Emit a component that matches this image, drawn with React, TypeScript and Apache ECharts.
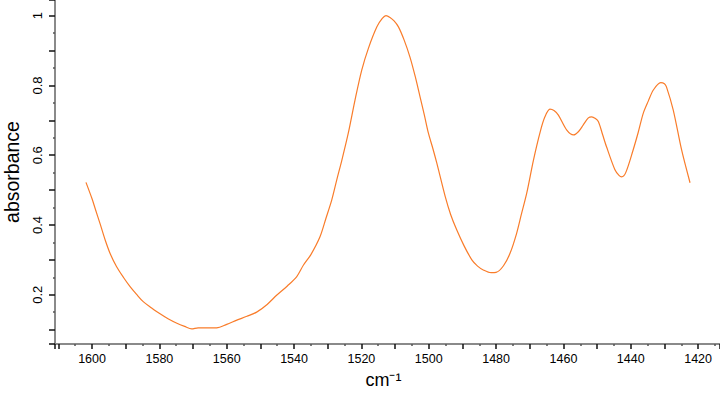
import { useEffect, useRef } from 'react';
import * as echarts from 'echarts';

// wavenumber (cm-1), high to low
const wavenumbers = [
  1601.8, 1600.0, 1599.1, 1597.5, 1596.1, 1594.5, 1592.7, 1590.7, 1588.7, 1586.7,
  1584.8, 1582.3, 1579.8, 1577.3, 1574.8, 1572.5, 1570.4, 1568.5, 1563.0, 1560.0,
  1557.0, 1554.0, 1551.1, 1548.0, 1545.1, 1542.0, 1539.2, 1537.2, 1535.0, 1532.3,
  1530.5, 1528.8, 1527.3, 1525.8, 1523.9, 1521.9, 1519.9, 1517.9, 1515.4, 1513.8,
  1512.7, 1511.5, 1510.3, 1509.0, 1507.3, 1505.6, 1504.0, 1502.6, 1501.3, 1500.1,
  1498.8, 1497.6, 1495.1, 1493.5, 1491.7, 1489.5, 1487.2, 1485.5, 1483.8, 1481.5,
  1480.0, 1477.8, 1475.8, 1473.9, 1472.5, 1470.9, 1468.9, 1466.9, 1465.5, 1464.0,
  1462.8, 1461.5, 1459.0, 1457.0, 1455.5, 1454.1, 1452.6, 1451.6, 1450.5, 1449.6,
  1448.4, 1447.2, 1444.7, 1443.5, 1442.7, 1441.5, 1439.3, 1437.8, 1436.3, 1434.8,
  1433.3, 1431.1, 1430.0, 1429.4, 1427.4, 1424.9, 1422.4,
];

const absorbance = [
  0.522, 0.475, 0.448, 0.4, 0.357, 0.315, 0.28, 0.25, 0.223, 0.2,
  0.18, 0.162, 0.145, 0.13, 0.118, 0.109, 0.102, 0.105, 0.105, 0.115,
  0.127, 0.138, 0.15, 0.172, 0.199, 0.225, 0.252, 0.285, 0.315, 0.366,
  0.42, 0.472, 0.53, 0.586, 0.663, 0.758, 0.844, 0.907, 0.968, 0.992,
  1.0, 0.995, 0.985, 0.968, 0.93, 0.882, 0.825, 0.768, 0.715, 0.663,
  0.62, 0.577, 0.481, 0.43, 0.386, 0.34, 0.3, 0.282, 0.271, 0.263,
  0.264, 0.283, 0.32, 0.376, 0.43, 0.491, 0.586, 0.667, 0.71, 0.732,
  0.728, 0.715, 0.672, 0.658, 0.668, 0.687, 0.707, 0.71, 0.705, 0.696,
  0.66, 0.624, 0.558, 0.542, 0.538, 0.55, 0.615, 0.665, 0.72, 0.755,
  0.787, 0.808, 0.805, 0.796, 0.73, 0.615, 0.521,
];

const FONT = '"Liberation Sans", Arial, sans-serif';

export default function App() {
  const chartRef = useRef<HTMLDivElement>(null);

  useEffect(() => {
    if (!chartRef.current) return;
    document.body.style.margin = '0';
    const chart = echarts.init(chartRef.current, null, { renderer: 'svg' });

    const xLabel = (v: number) => (Math.abs(v % 20) < 1e-6 ? String(v) : '');
    const yLabel = (v: number) => {
      const r = Math.round(v * 10);
      if (Math.abs(v * 10 - r) > 1e-6 || r % 2 !== 0) return '';
      return String(r / 10);
    };

    chart.setOption({
      animation: false,
      grid: { left: 55, right: 0, top: 0, bottom: 64, outerBoundsMode: 'none', containLabel: false },
      xAxis: {
        type: 'value',
        inverse: true,
        min: 1413.5,
        max: 1611,
        splitNumber: 20,
        minInterval: 10,
        maxInterval: 10,
        name: 'cm⁻¹',
        nameLocation: 'middle',
        nameGap: 27,
        nameTextStyle: { fontFamily: FONT, fontSize: 18, color: '#000', padding: [0, 8, 0, 0] },
        axisLine: { lineStyle: { color: '#8a8a8a', width: 2 } },
        axisTick: { length: 5, lineStyle: { color: '#111', width: 1.5 } },
        minorTick: { show: true, splitNumber: 2, length: 2, lineStyle: { color: '#555', width: 1.5 } },
        axisLabel: { formatter: xLabel, fontFamily: FONT, fontSize: 12.5, color: '#000', margin: 8 },
        splitLine: { show: false },
      },
      yAxis: {
        type: 'value',
        min: 0.0586,
        max: 1.045,
        splitNumber: 10,
        minInterval: 0.1,
        maxInterval: 0.1,
        name: 'absorbance',
        nameLocation: 'middle',
        nameGap: 33,
        nameTextStyle: { fontFamily: FONT, fontSize: 19.5, color: '#000' },
        axisLine: { show: true, lineStyle: { color: '#8a8a8a', width: 2 } },
        axisTick: { show: true, length: 6, lineStyle: { color: '#111', width: 1.5 } },
        minorTick: { show: true, splitNumber: 2, length: 2, lineStyle: { color: '#555', width: 1.5 } },
        axisLabel: { formatter: yLabel, rotate: 90, fontFamily: FONT, fontSize: 13, color: '#000', margin: 11 },
        splitLine: { show: false },
      },
      series: [
        {
          type: 'line',
          data: wavenumbers.map((w, i) => [w, absorbance[i]]),
          showSymbol: false,
          smooth: 0.3,
          lineStyle: { color: '#f97c2a', width: 1.2 },
        },
      ],
    });

    return () => chart.dispose();
  }, []);

  return <div ref={chartRef} style={{ width: 720, height: 408 }} />;
}
